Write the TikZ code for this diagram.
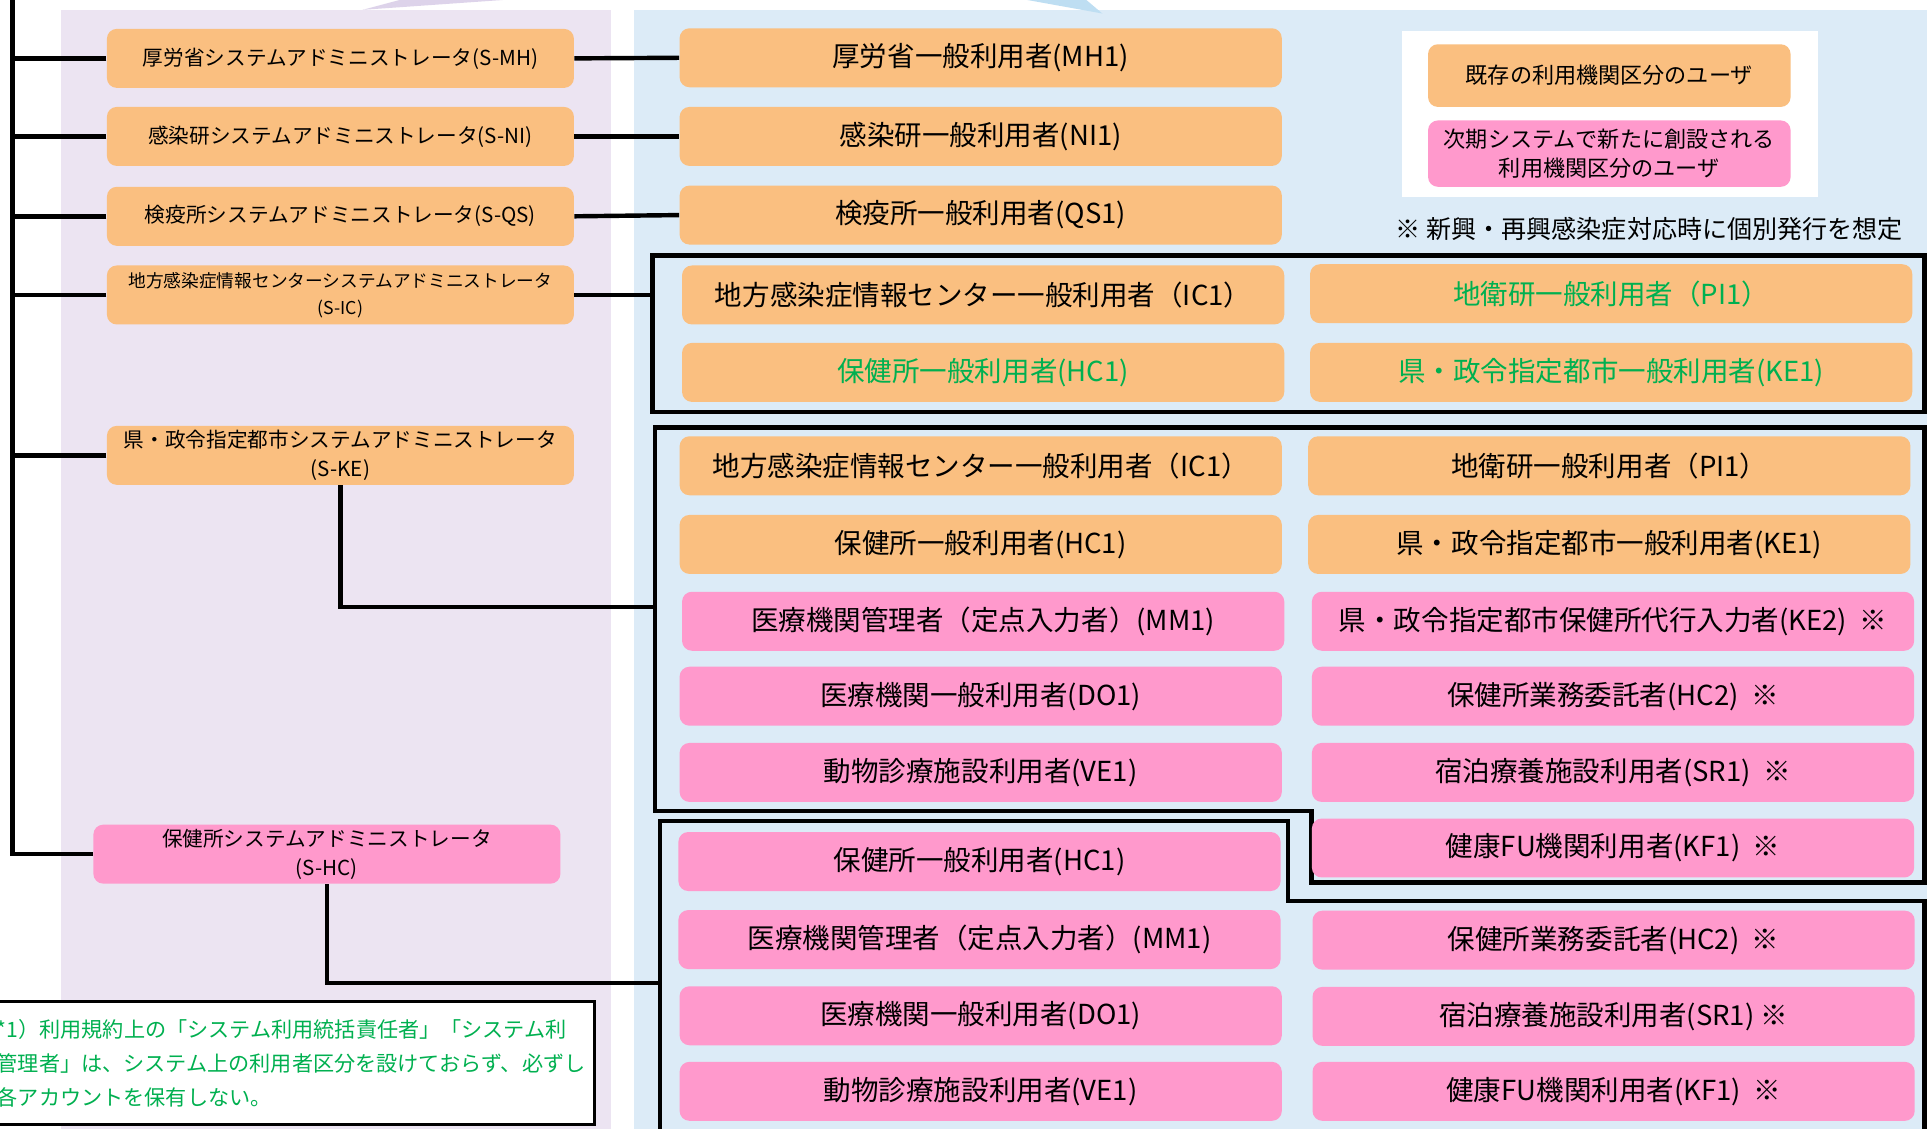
\documentclass[tikz,border=0pt]{standalone}
\usepackage{fontspec}
\setmainfont{Noto Sans CJK JP}
\definecolor{orng}{RGB}{250,191,128}
\definecolor{pnk}{RGB}{255,153,204}
\definecolor{lav}{RGB}{236,228,242}
\definecolor{lavdk}{RGB}{221,211,234}
\definecolor{sky}{RGB}{220,235,247}
\definecolor{skydk}{RGB}{190,222,242}
\definecolor{grn}{RGB}{0,176,80}

\begin{document}
\begin{tikzpicture}[x=0.5pt,y=-0.5pt,
  usr/.style={rounded corners=4pt, inner sep=0pt, minimum width=245pt,
    minimum height=24pt, align=center, font=\fontsize{11.2}{13}\selectfont},
  adm/.style={usr, minimum width=190pt, font=\fontsize{8.4}{12}\selectfont},
  oldusr/.style={fill=orng},
  newusr/.style={fill=pnk},
  link/.style={line width=1.8pt},
  grp/.style={line width=1.8pt}]

\def\admx{277}
\def\lftx{798}
\def\rgtx{1311}

\useasboundingbox (0,0) rectangle (1568,918);
\clip (0,0) rectangle (1568,918);

% PANELS
\fill[lav] (50,8) rectangle (497,930);
\fill[sky] (516,8) rectangle (1580,930);
\fill[lavdk] (295,8) -- (325,0) -- (409,0) -- cycle;
\fill[skydk] (836,0) -- (884,0) -- (897,11) -- cycle;

% ADMINISTRATORS
\node[adm, oldusr] (SMH) at (\admx,47.5) {厚労省システムアドミニストレータ(S-MH)};
\node[adm, oldusr] (SNI) at (\admx,111) {感染研システムアドミニストレータ(S-NI)};
\node[adm, oldusr] (SQS) at (\admx,176) {検疫所システムアドミニストレータ(S-QS)};
\node[adm, oldusr, font=\fontsize{7.2}{11}\selectfont] (SIC) at (\admx,240)
  {地方感染症情報センターシステムアドミニストレータ\\(S-IC)};
\node[adm, oldusr] (SKE) at (\admx,370.5) {県・政令指定都市システムアドミニストレータ\\(S-KE)};
\node[adm, newusr] (SHC) at (266,695) {保健所システムアドミニストレータ\\(S-HC)};

% SPINE
\coordinate (top) at (10,-5);
\draw[link] (top) |- (SHC.west);
\foreach \a in {SMH,SNI,SQS,SIC,SKE}
  \draw[link] (\a.west) -- (\a.west -| top);

% NATIONAL USERS
\node[usr, oldusr] (MH1) at (\lftx,47) {厚労省一般利用者(MH1)};
\node[usr, oldusr] (NI1) at (\lftx,111) {感染研一般利用者(NI1)};
\node[usr, oldusr] (QS1) at (\lftx,175) {検疫所一般利用者(QS1)};
\draw[link] (SMH.east) -- (MH1.west);
\draw[link] (SNI.east) -- (NI1.west);
\draw[link] (SQS.east) -- (QS1.west);

% LEGEND
\node[fill=white, inner sep=0pt, minimum width=169pt, minimum height=67.5pt] (legend) at (1310,92.5) {};
\node[usr, oldusr, minimum width=147.5pt, minimum height=25.5pt, font=\fontsize{9}{11.5}\selectfont]
  (LGold) at (1309.5,61.5) {既存の利用機関区分のユーザ};
\node[usr, newusr, minimum width=147.5pt, minimum height=27pt, font=\fontsize{9}{11.5}\selectfont]
  (LGnew) at (1309.5,125) {次期システムで新たに創設される\\利用機関区分のユーザ};
\node[inner sep=0pt, font=\fontsize{10.2}{12}\selectfont] (remark) at (1342,186)
  {※ 新興・再興感染症対応時に個別発行を想定};

% GROUP IC
\draw[grp] (531,208) rectangle (1566,335);
\node[usr, oldusr] (IC1a) at (800,240) {地方感染症情報センター一般利用者（IC1）};
\node[usr, oldusr, text=grn] (PI1a) at (\rgtx,239) {地衛研一般利用者（PI1）};
\node[usr, oldusr, text=grn] (HC1a) at (800,303) {保健所一般利用者(HC1)};
\node[usr, oldusr, text=grn] (KE1a) at (\rgtx,303) {県・政令指定都市一般利用者(KE1)};
\coordinate (G1) at (531,240);
\draw[link] (SIC.east) -- (G1);

% GROUP KE
\draw[grp] (533,348) -- (1566,348) -- (1566,718) -- (1067,718) -- (1067,660) -- (533,660) -- cycle;
\node[usr, oldusr] (IC1b) at (\lftx,379) {地方感染症情報センター一般利用者（IC1）};
\node[usr, oldusr] (PI1b) at (1309.5,379) {地衛研一般利用者（PI1）};
\node[usr, oldusr] (HC1b) at (\lftx,443) {保健所一般利用者(HC1)};
\node[usr, oldusr] (KE1b) at (1309.5,443) {県・政令指定都市一般利用者(KE1)};
\node[usr, newusr] (MM1b) at (800,505.5) {医療機関管理者（定点入力者）(MM1)};
\node[usr, newusr] (KE2b) at (1312.5,505.5) {県・政令指定都市保健所代行入力者(KE2)\ \ ※};
\node[usr, newusr] (DO1b) at (\lftx,566.5) {医療機関一般利用者(DO1)};
\node[usr, newusr] (HC2b) at (1312.5,566.5) {保健所業務委託者(HC2)\ \ ※};
\node[usr, newusr] (VE1b) at (\lftx,628.5) {動物診療施設利用者(VE1)};
\node[usr, newusr] (SR1b) at (1312.5,628.5) {宿泊療養施設利用者(SR1)\ \ ※};
\node[usr, newusr] (KF1b) at (1312.5,690) {健康FU機関利用者(KF1)\ \ ※};
\coordinate (G2) at (533,494);
\draw[link] (SKE.south) |- (G2);

% GROUP HC
\draw[grp] (537,930) -- (537,668) -- (1048,668) -- (1048,733) -- (1566,733) -- (1566,930);
\node[usr, newusr] (HC1c) at (797,701) {保健所一般利用者(HC1)};
\node[usr, newusr] (MM1c) at (797,764.5) {医療機関管理者（定点入力者）(MM1)};
\node[usr, newusr] (DO1c) at (\lftx,826.5) {医療機関一般利用者(DO1)};
\node[usr, newusr] (VE1c) at (\lftx,888) {動物診療施設利用者(VE1)};
\node[usr, newusr] (HC2c) at (1313,765) {保健所業務委託者(HC2)\ \ ※};
\node[usr, newusr] (SR1c) at (1313,827) {宿泊療養施設利用者(SR1)\ ※};
\node[usr, newusr] (KF1c) at (1313,888) {健康FU機関利用者(KF1)\ \ ※};
\coordinate (G3) at (537,800);
\draw[link] (SHC.south) |- (G3);

% NOTE
\draw[line width=1.2pt, fill=white] (-20,815) rectangle (484,915);
\node[anchor=north west, align=left, inner sep=0pt, text=grn,
  font=\fontsize{8.6}{13.75}\selectfont] (note) at (-3,829)
  {*1）利用規約上の「システム利用統括責任者」「システム利\\
   管理者」は、システム上の利用者区分を設けておらず、必ずし\\
   各アカウントを保有しない。};

\end{tikzpicture}
\end{document}
